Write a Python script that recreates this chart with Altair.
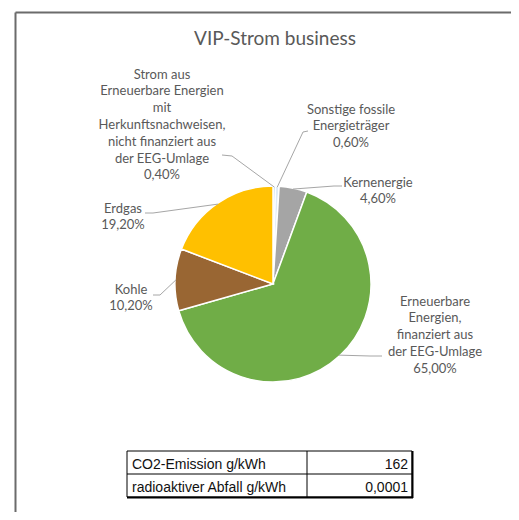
import math
import altair as alt
import pandas as pd

# ---------------- data ----------------
categories = [
    "Strom aus\nErneuerbare Energien\nmit\nHerkunftsnachweisen,\nnicht finanziert aus\nder EEG-Umlage",
    "Sonstige fossile\nEnergieträger",
    "Kernenergie",
    "Erneuerbare\nEnergien,\nfinanziert aus\nder EEG-Umlage",
    "Kohle",
    "Erdgas",
]
shares = [0.4, 0.6, 4.6, 65.0, 10.2, 19.2]
slice_colors = ["#9DC3E6", "#DEEBF7", "#A5A5A5", "#70AD47", "#996633", "#FFC000"]

table_rows = ["CO2-Emission g/kWh", "radioaktiver Abfall g/kWh"]
table_values = ["162", "0,0001"]

title_text = "VIP-Strom business"

# ---------------- layout (pixels in chart space) ----------------
W, H = 503, 504
CX, CY, R = 265, 276, 98
# first-line anchor of every data label (x centre, baseline)
label_pos = [(154, 70.5), (343, 105.5), (370, 178.5), (427, 297.5), (123, 285.5), (115, 204.5)]
# label-side points of leader lines (start, elbow)
leader_pts = [
    [(214, 147), (224, 148)],
    [(300, 123), (295, 124)],
    [(334, 178), (326, 178)],
    [(374, 348), (362, 348)],
    [(145, 287), (152, 287)],
    [(137, 205), (145, 205)],
]

GREY_TXT = "#595959"

# ---------------- derived frames ----------------
pie_df = pd.DataFrame({"cat": categories, "share": shares, "order": list(range(len(shares)))})

total = sum(shares)
cum = 0.0
lab_rows, lead_rows = [], []
for i, (c, s) in enumerate(zip(categories, shares)):
    mid = (cum + s / 2) / total * 2 * math.pi
    cum += s
    pct = f"{s:.2f}".replace(".", ",") + "%"
    lx, ly = label_pos[i]
    lab_rows.append({"x": lx, "y": ly, "t": c + "\n" + pct})
    px = CX + (R - 1) * math.sin(mid)
    py = CY - (R - 1) * math.cos(mid)
    pts = leader_pts[i] + [(px, py)]
    for k, (x, y) in enumerate(pts):
        lead_rows.append({"id": i, "k": k, "x": x, "y": y})
lab_df = pd.DataFrame(lab_rows)
lead_df = pd.DataFrame(lead_rows)

XN = lambda f: alt.X(f, type="quantitative", scale=None, axis=None)
YN = lambda f: alt.Y(f, type="quantitative", scale=None, axis=None)

# frame (top and left border)
frame_df = pd.DataFrame([
    {"x": 7.5, "y": 4.5, "x2": W, "y2": 4.5},
    {"x": 7.5, "y": 4.5, "x2": 7.5, "y2": H},
])
frame = alt.Chart(frame_df).mark_rule(color="#6B6B6B", strokeWidth=2).encode(
    x=XN("x"), y=YN("y"), x2="x2", y2="y2")

title = alt.Chart(pd.DataFrame({"t": [title_text], "x": [267], "y": [36.5]})).mark_text(
    font="Lato", fontSize=19, color=GREY_TXT, align="center", baseline="alphabetic"
).encode(x=XN("x"), y=YN("y"), text="t:N")

arc = alt.Chart(pie_df).mark_arc(outerRadius=R, stroke="white", strokeWidth=1.5).encode(
    theta=alt.Theta("share:Q", stack=True),
    order=alt.Order("order:Q"),
    color=alt.Color("cat:N", scale=alt.Scale(domain=categories, range=slice_colors), legend=None),
    x=alt.value(CX), y=alt.value(CY),
)

leaders = alt.Chart(lead_df).mark_line(color="#A6A6A6", strokeWidth=1).encode(
    x=XN("x"), y=YN("y"), detail="id:N", order="k:Q")

labels = alt.Chart(lab_df).mark_text(
    font="Lato", fontSize=13, color=GREY_TXT, align="center", baseline="alphabetic",
    lineBreak="\n", lineHeight=16.8
).encode(x=XN("x"), y=YN("y"), text="t:N")

# table
TL, TR, TT, TM, TB, TD = 119, 404, 443, 466, 489, 299
tbl_box = alt.Chart(pd.DataFrame([{"x": TL, "y": TT, "x2": TR, "y2": TB}])).mark_rect(
    fill="white", stroke="black", strokeWidth=1).encode(x=XN("x"), y=YN("y"), x2="x2", y2="y2")
tbl_lines = alt.Chart(pd.DataFrame([
    {"x": TL, "y": TM, "x2": TR, "y2": TM, "w": 1},
    {"x": TD, "y": TT, "x2": TD, "y2": TB, "w": 1},
    {"x": TR + 0.5, "y": TT, "x2": TR + 0.5, "y2": TB + 1, "w": 2},
    {"x": TL, "y": TB + 0.5, "x2": TR + 1, "y2": TB + 0.5, "w": 2},
])).mark_rule(color="black").encode(
    x=XN("x"), y=YN("y"), x2="x2", y2="y2",
    strokeWidth=alt.StrokeWidth("w:Q", scale=None, legend=None))

tbl_text_df = pd.DataFrame({
    "t": table_rows, "v": table_values,
    "xl": [TL + 5] * 2, "xr": [TR - 4] * 2, "y": [TT + 17.5, TM + 17.5],
})
tbl_left = alt.Chart(tbl_text_df).mark_text(
    font="Liberation Sans", fontSize=14, color="#111111", align="left", baseline="alphabetic"
).encode(x=XN("xl"), y=YN("y"), text="t:N")
tbl_right = alt.Chart(tbl_text_df).mark_text(
    font="Liberation Sans", fontSize=14, color="#111111", align="right", baseline="alphabetic"
).encode(x=XN("xr"), y=YN("y"), text="v:N")

chart = alt.layer(
    frame, title, arc, leaders, labels, tbl_box, tbl_lines, tbl_left, tbl_right
).properties(
    width=W, height=H, padding=0, autosize=alt.AutoSizeParams(type="none"),
    background="white",
).configure_view(stroke=None)

chart.save("out.html", embed_options={"renderer": "svg", "actions": False})
